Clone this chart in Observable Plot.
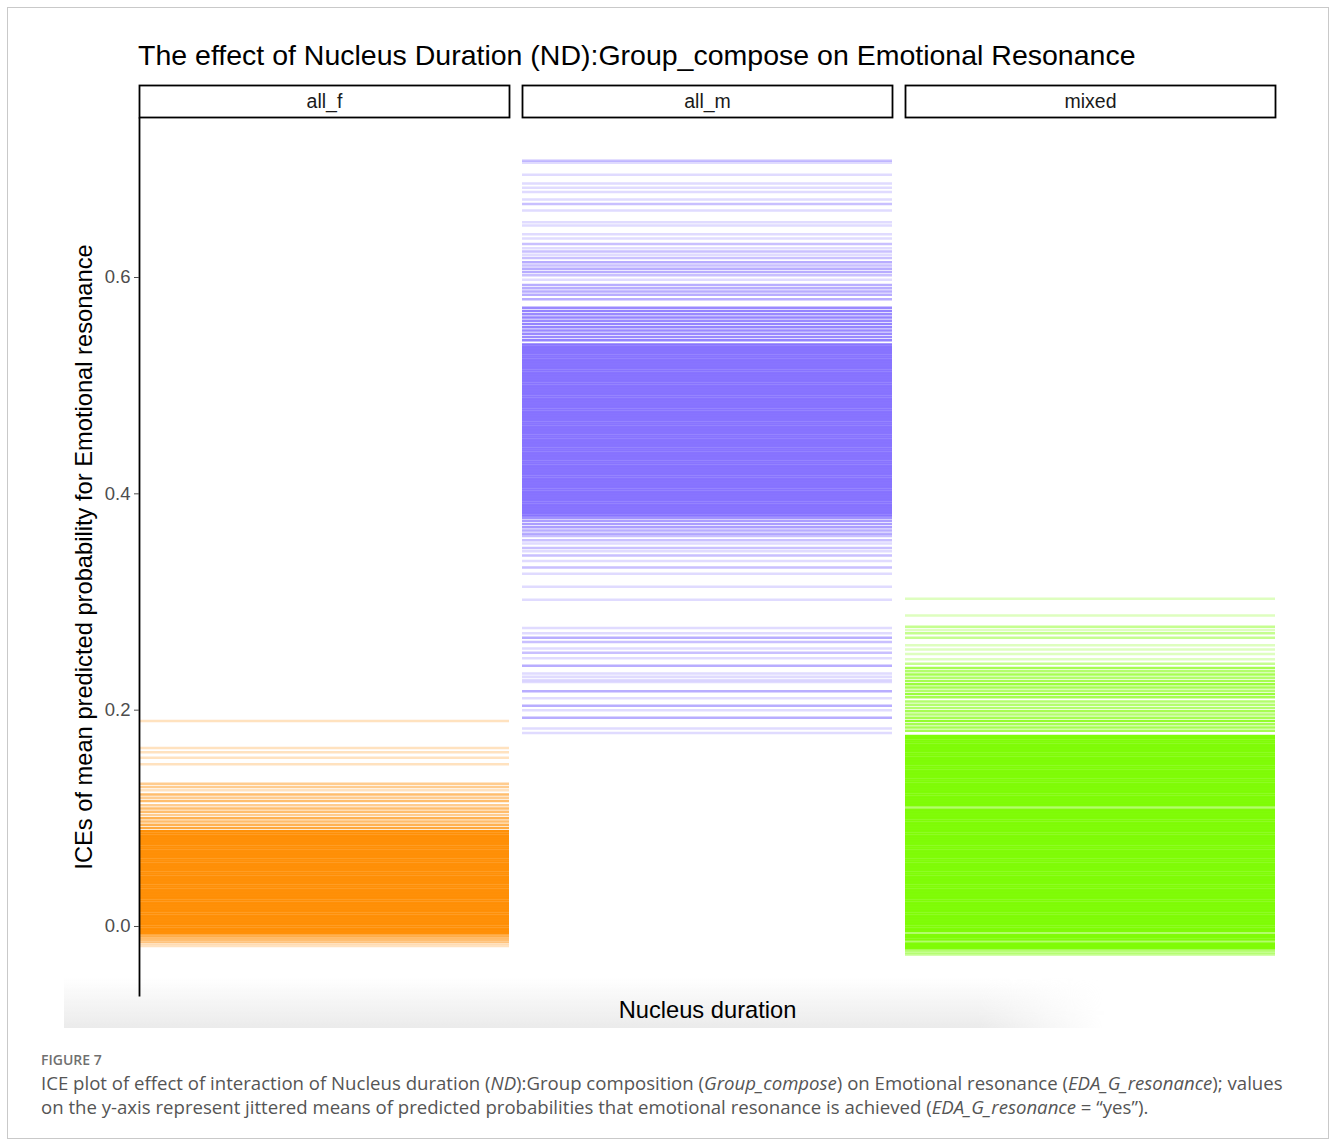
<!DOCTYPE html>
<html>
<head>
<meta charset="utf-8">
<script src="https://cdn.jsdelivr.net/npm/d3@7"></script>
<script src="https://cdn.jsdelivr.net/npm/@observablehq/plot@0.6"></script>
<style>
  html, body { margin: 0; padding: 0; background: #fff; }
  #page { position: relative; width: 1333px; height: 1142px; overflow: hidden; background: #fff; font-family: "Liberation Sans", Arial, sans-serif; }
  #border { position: absolute; left: 7px; top: 7px; width: 1322px; height: 1132px; border: 1px solid #c9c9c9; box-sizing: border-box; }
  #shade { position: absolute; left: 64px; top: 978px; width: 1040px; height: 50px;
    background: linear-gradient(to bottom, rgba(255,255,255,0) 0%, rgba(228,228,228,0.75) 100%);
    -webkit-mask-image: linear-gradient(to right, #000 0%, #000 88%, transparent 100%);
    mask-image: linear-gradient(to right, #000 0%, #000 88%, transparent 100%); }
  #title { position: absolute; left: 138px; top: 38px; font-size: 28.5px; line-height: 34px; color: #000; white-space: nowrap; }
  #chart { position: absolute; left: 0; top: 84px; }
  #figlabel { position: absolute; left: 41px; top: 1050px; font-family: "Open Sans", sans-serif; font-weight: 600; font-size: 14px; line-height: 20px; color: #707070; }
  #caption { position: absolute; left: 41px; top: 1071px; white-space: nowrap; font-family: "Open Sans", sans-serif; font-size: 18.6px; line-height: 24px; color: #555; }
</style>
</head>
<body>
<div id="page">
  <div id="border"></div>
  <div id="shade"></div>
  <div id="title"></div>
  <div id="chart"></div>
  <div id="figlabel">FIGURE 7</div>
  <div id="caption">ICE plot of effect of interaction of Nucleus duration (<i>ND</i>):Group composition (<i>Group_compose</i>) on Emotional resonance (<i>EDA_G_resonance</i>); values<br>on the y-axis represent jittered means of predicted probabilities that emotional resonance is achieved (<i>EDA_G_resonance</i> = “yes”).</div>
</div>
<script>
const titleText = "The effect of Nucleus Duration (ND):Group_compose on Emotional Resonance";
const yLabel = "ICEs of mean predicted probability for Emotional resonance";
const xLabel = "Nucleus duration";
const groups = ["all_f", "all_m", "mixed"];
const groupColors = ["#FF8C00", "#8470FF", "#7CFC00"];
const yTicks = [0, 0.2, 0.4, 0.6];

// sparse ICE levels: [mean predicted probability, number of coinciding curves]
const allF = [[0.190,1],[0.165,1],[0.161,1],[0.156,1],[0.150,1],
  [0.132,2],[0.129,2],[0.126,1],[0.122,3],[0.119,2],[0.116,3],[0.112,2],[0.109,3],[0.106,3],[0.103,2],
  [0.100,4],[0.097,3],[0.094,4],[0.091,5],
  [-0.008,4],[-0.010,3],[-0.012,3],[-0.014,2],[-0.016,1],[-0.018,1]];
const allM = [[0.708,2],[0.706,1],[0.695,1],[0.687,1],[0.683,1],[0.679,1],[0.672,1],[0.668,2],[0.662,1],
  [0.651,1],[0.648,1],[0.640,1],[0.636,1],[0.631,2],[0.627,1],[0.624,2],[0.621,1],[0.618,2],
  [0.614,3],[0.611,2],[0.608,3],[0.605,3],[0.602,2],[0.598,1],[0.593,3],[0.590,3],[0.587,3],[0.584,3],[0.580,3],
  [0.572,6],[0.569,7],[0.566,6],[0.563,7],[0.560,6],[0.557,7],[0.554,7],[0.551,6],[0.548,6],[0.545,6],[0.542,7],
  [0.378,5],[0.375,4],[0.372,4],[0.369,4],[0.366,3],[0.363,3],[0.361,2],[0.357,2],[0.354,1],[0.350,2],[0.347,1],[0.343,2],
  [0.338,1],[0.332,2],[0.326,1],[0.314,1],[0.302,1],
  [0.276,1],[0.271,1],[0.267,3],[0.263,2],[0.257,1],[0.253,2],[0.248,1],[0.241,3],[0.234,1],[0.231,1],[0.228,1],[0.226,1],
  [0.2175,3],[0.211,1],[0.204,3],[0.200,1],[0.193,3],[0.183,1],[0.179,1]];
const mixed = [[0.303,1],[0.2875,1],[0.277,2],[0.274,1],[0.271,2],[0.267,2],
  [0.260,1],[0.256,1],[0.252,1],[0.247,1],[0.243,2],
  [0.239,4],[0.236,3],[0.233,4],[0.230,3],[0.227,4],[0.224,5],[0.221,4],[0.218,3],[0.215,5],[0.212,4],
  [0.208,3],[0.205,3],[0.202,3],[0.199,4],[0.196,3],[0.193,4],[0.190,6],[0.187,4],[0.184,4],[0.181,4],
  [0.110,3],[-0.006,3],[-0.014,3],
  [-0.022,3],[-0.024,2],[-0.026,2]];

// dense cores: levels where many curves coincide
const allF_core = [0.088,0.086,0.084,0.082,0.080,0.078,0.076,0.074,0.072,0.070,0.068,0.066,0.064,0.062,0.060,0.058,
  0.056,0.054,0.052,0.050,0.048,0.046,0.044,0.042,0.040,0.038,0.036,0.034,0.032,0.030,0.028,0.026,0.024,0.022,0.020,
  0.018,0.016,0.014,0.012,0.010,0.008,0.006,0.004,0.002,0.000,-0.002,-0.004,-0.006];
const allM_core = [0.538,0.536,0.534,0.532,0.530,0.528,0.526,0.524,0.522,0.520,0.518,0.516,0.514,0.512,0.510,0.508,
  0.506,0.504,0.502,0.500,0.498,0.496,0.494,0.492,0.490,0.488,0.486,0.484,0.482,0.480,0.478,0.476,0.474,0.472,0.470,
  0.468,0.466,0.464,0.462,0.460,0.458,0.456,0.454,0.452,0.450,0.448,0.446,0.444,0.442,0.440,0.438,0.436,0.434,0.432,
  0.430,0.428,0.426,0.424,0.422,0.420,0.418,0.416,0.414,0.412,0.410,0.408,0.406,0.404,0.402,0.400,0.398,0.396,0.394,
  0.392,0.390,0.388,0.386,0.384,0.382,0.380];
const mixed_core = [0.176,0.174,0.172,0.170,0.168,0.166,0.164,0.162,0.160,0.158,0.156,0.154,0.152,0.150,0.148,0.146,
  0.144,0.142,0.140,0.138,0.136,0.134,0.132,0.130,0.128,0.126,0.124,0.122,0.120,0.118,0.116,0.114,0.112,0.108,0.106,
  0.104,0.102,0.100,0.098,0.096,0.094,0.092,0.090,0.088,0.086,0.084,0.082,0.080,0.078,0.076,0.074,0.072,0.070,0.068,
  0.066,0.064,0.062,0.060,0.058,0.056,0.054,0.052,0.050,0.048,0.046,0.044,0.042,0.040,0.038,0.036,0.034,0.032,0.030,
  0.028,0.026,0.024,0.022,0.020,0.018,0.016,0.014,0.012,0.010,0.008,0.006,0.004,0.002,0.000,-0.002,-0.004,-0.008,
  -0.010,-0.012,-0.016,-0.018,-0.020];
const coreCurves = [12, 12, 12];

const baseAlpha = 0.25;
const sparse = {all_f: allF, all_m: allM, mixed: mixed};
const cores = {all_f: allF_core, all_m: allM_core, mixed: mixed_core};
const rows = [];
groups.forEach((g, i) => {
  for (const [y, n] of sparse[g]) rows.push({g, y, a: 1 - Math.pow(1 - baseAlpha, n)});
  for (const y of cores[g]) rows.push({g, y, a: 1 - Math.pow(1 - baseAlpha, coreCurves[i])});
});

document.getElementById("title").textContent = titleText;

const chart = Plot.plot({
  width: 1333,
  height: 946,
  marginTop: 34,
  marginBottom: 35,
  marginLeft: 138,
  marginRight: 58,
  style: {fontFamily: "'Liberation Sans', Arial, sans-serif", background: "transparent", overflow: "visible"},
  fx: {domain: groups, paddingInner: 0.035, paddingOuter: 0, axis: null},
  y: {domain: [-0.0638, 0.747], axis: null},
  color: {domain: groups, range: groupColors},
  opacity: {type: "identity"},
  marks: [
    Plot.ruleY(rows, {y: "y", fx: "g", stroke: "g", strokeOpacity: "a", strokeWidth: 2.5}),
    Plot.frame({stroke: "#000", strokeWidth: 1.8, insetTop: -33, insetBottom: 878}),
    Plot.text(groups, {fx: d => d, text: d => d, frameAnchor: "top", lineAnchor: "middle", dy: -17, fontSize: 19.5, fill: "#1a1a1a"}),
    Plot.frame({anchor: "left", facetAnchor: "left", stroke: "#000", strokeWidth: 1.8}),
    Plot.axisY({ticks: yTicks, tickFormat: d3.format(".1f"), tickSize: 5, tickPadding: 4, fontSize: 18.5, color: "#4d4d4d", label: null}),
    Plot.text([yLabel], {fx: ["all_f"], frameAnchor: "left", textAnchor: "middle", lineAnchor: "middle", rotate: -90, dx: -55, fontSize: 23.7, fill: "#000"}),
    Plot.text([xLabel], {fx: ["all_m"], frameAnchor: "bottom", lineAnchor: "middle", dy: 15, fontSize: 23.7, fill: "#000"})
  ]
});
document.getElementById("chart").appendChild(chart);
</script>
</body>
</html>
